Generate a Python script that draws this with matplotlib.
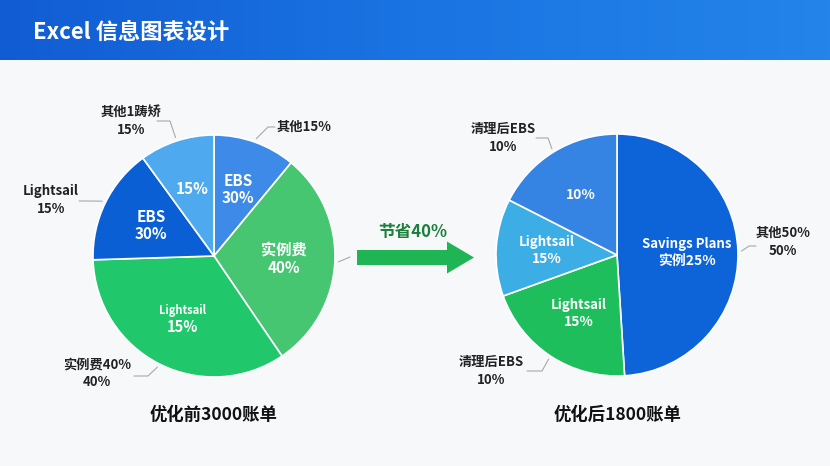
import numpy as np
import matplotlib
matplotlib.use("Agg")
import matplotlib.pyplot as plt
from matplotlib.patches import FancyArrow
from matplotlib.colors import LinearSegmentedColormap

plt.rcParams["font.family"] = ["Noto Sans CJK SC", "DejaVu Sans"]

W, H = 830, 466

title = "Excel 信息图表设计"
saving_label = "节省40%"

# before optimisation (clockwise from 12 o'clock)
before_title = "优化前3000账单"
before_shares = [11, 29.5, 34, 15.5, 10]
before_names = ["EBS", "实例费", "Lightsail", "EBS", ""]
before_pcts = ["30%", "40%", "15%", "30%", "15%"]
before_colors = ["#3d8ae8", "#47c671", "#20c76b", "#0b5fd5", "#4fa9ee"]

# after optimisation
after_title = "优化后1800账单"
after_shares = [49, 20.5, 13, 17.5]
after_names = ["Savings Plans", "Lightsail", "Lightsail", ""]
after_pcts = ["实例25%", "15%", "15%", "10%"]
after_colors = ["#0d63d8", "#1fbe5d", "#3caee5", "#3583e3"]

# outer callouts: wedge index, text, text pos, elbow, line end (image px)
before_callouts = [
    (0, "其他15%", (277, 127), (268, 127), (275, 127), "left"),
    (4, "其他1踌矫\n15%", (131, 121), (170, 121), (157, 121), "center"),
    (3, "Lightsail\n15%", (51, 200), (88, 201), (79, 201), "center"),
    (2, "实例费40%\n40%", (97, 373), (148, 376), (134, 376), "center"),
    (1, "", (350, 257), (350, 257), (350, 257), "left"),
]
after_callouts = [
    (3, "清理后EBS\n10%", (503, 138), (548, 138), (536, 138), "center"),
    (0, "其他50%\n50%", (783, 242), (749, 246), (756, 246), "center"),
    (1, "清理后EBS\n10%", (491, 371), (542, 371), (527, 371), "center"),
]


def Y(y):
    return H - y


def draw_pie(ax, cx, cy, r, shares, colors, names, pcts, name_sizes, pct_sizes, callouts):
    wedges, _ = ax.pie(shares, colors=colors, startangle=90, counterclock=False,
                       center=(cx, Y(cy)), radius=r, frame=True,
                       wedgeprops=dict(edgecolor="white", linewidth=1.2))
    for w, name, pct, ns, ps in zip(wedges, names, pcts, name_sizes, pct_sizes):
        mid = np.deg2rad((w.theta1 + w.theta2) / 2)
        tx = cx + 0.58 * r * np.cos(mid)
        ty = Y(cy) + 0.58 * r * np.sin(mid)
        if name:
            ax.text(tx, ty + 8.5, name, color="white", fontsize=ns, weight="bold",
                    ha="center", va="center")
            ax.text(tx, ty - 8.5, pct, color="white", fontsize=ps, weight="bold",
                    ha="center", va="center")
        else:
            ax.text(tx, ty, pct, color="white", fontsize=ps, weight="bold",
                    ha="center", va="center")
    for idx, text, tpos, elbow, end, ha in callouts:
        w = wedges[idx]
        mid = np.deg2rad((w.theta1 + w.theta2) / 2)
        ex = cx + 1.03 * r * np.cos(mid)
        ey = Y(cy) + 1.03 * r * np.sin(mid)
        ax.plot([ex, elbow[0], end[0]], [ey, Y(elbow[1]), Y(end[1])],
                color="#a8a8a8", lw=0.8, solid_capstyle="round")
        if text:
            ax.text(tpos[0], Y(tpos[1]), text, color="#222222", fontsize=9.5,
                    weight="bold", ha=ha, va="center", linespacing=1.35,
                    multialignment="center")


fig = plt.figure(figsize=(W / 100, H / 100), dpi=100, facecolor="#f7f8fa")
ax = fig.add_axes([0, 0, 1, 1])
ax.set_xlim(0, W)
ax.set_ylim(0, H)
ax.set_facecolor("#f7f8fa")

# header band
cmap = LinearSegmentedColormap.from_list("hdr", ["#125cd3", "#1a74e2", "#2484ea"])
grad = np.linspace(0, 1, 256).reshape(1, -1)
ax.imshow(grad, extent=[0, W, Y(60), H], cmap=cmap, aspect="auto", zorder=0)
ax.text(33, Y(32), title, color="white", fontsize=16, weight="bold",
        ha="left", va="center")

draw_pie(ax, 214, 256, 121, before_shares, before_colors, before_names,
         before_pcts, [11, 11, 8, 11, 11], [11, 11, 10.5, 11, 11], before_callouts)
draw_pie(ax, 617, 255, 121, after_shares, after_colors, after_names,
         after_pcts, [9.5, 9.5, 9.5, 9.5], [10, 10, 10, 10], after_callouts)

ax.text(214, Y(415), before_title, fontsize=12.5, weight="bold", color="#111111",
        ha="center", va="center")
ax.text(618, Y(415), after_title, fontsize=12.5, weight="bold", color="#111111",
        ha="center", va="center")

# saving arrow
ax.add_patch(FancyArrow(357, Y(257.5), 117, 0, width=15, head_width=32,
                        head_length=27, length_includes_head=True,
                        color="#1fb554", lw=0))
ax.text(413, Y(232), saving_label, fontsize=12, weight="bold", color="#1a7f3a",
        ha="center", va="center")

ax.set_xlim(0, W)
ax.set_ylim(0, H)
ax.set_aspect("equal")
ax.axis("off")

fig.savefig("out.png", dpi=100, facecolor=fig.get_facecolor())
